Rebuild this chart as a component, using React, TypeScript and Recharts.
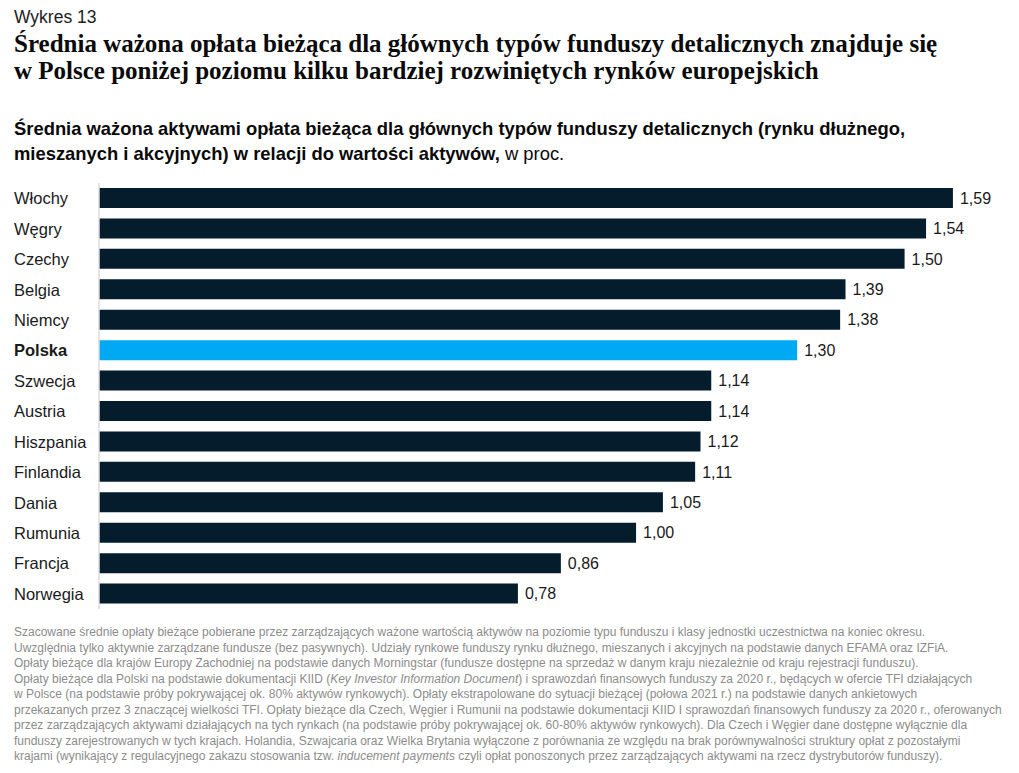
import React from 'react';
import { BarChart, Bar, XAxis, YAxis, Cell, LabelList } from 'recharts';

const countries = [
  'Włochy',
  'Węgry',
  'Czechy',
  'Belgia',
  'Niemcy',
  'Polska',
  'Szwecja',
  'Austria',
  'Hiszpania',
  'Finlandia',
  'Dania',
  'Rumunia',
  'Francja',
  'Norwegia',
];

const fees = [1.59, 1.54, 1.5, 1.39, 1.38, 1.3, 1.14, 1.14, 1.12, 1.11, 1.05, 1.0, 0.86, 0.78];

const highlighted = 'Polska';

const data = countries.map((country, i) => ({ country, fee: fees[i] }));

const NAVY = '#051c2c';
const CYAN = '#00a9f4';
const SANS = '"Liberation Sans", Arial, sans-serif';

const footnotes: React.ReactNode[] = [
  'Szacowane średnie opłaty bieżące pobierane przez zarządzających ważone wartością aktywów na poziomie typu funduszu i klasy jednostki uczestnictwa na koniec okresu.',
  'Uwzględnia tylko aktywnie zarządzane fundusze (bez pasywnych). Udziały rynkowe funduszy rynku dłużnego, mieszanych i akcyjnych na podstawie danych EFAMA oraz IZFiA.',
  'Opłaty bieżące dla krajów Europy Zachodniej na podstawie danych Morningstar (fundusze dostępne na sprzedaż w danym kraju niezależnie od kraju rejestracji funduszu).',
  <>
    Opłaty bieżące dla Polski na podstawie dokumentacji KIID (<i>Key Investor Information Document</i>) i
    sprawozdań finansowych funduszy za 2020 r., będących w ofercie TFI działających
  </>,
  'w Polsce (na podstawie próby pokrywającej ok. 80% aktywów rynkowych). Opłaty ekstrapolowane do sytuacji bieżącej (połowa 2021 r.) na podstawie danych ankietowych',
  'przekazanych przez 3 znaczącej wielkości TFI. Opłaty bieżące dla Czech, Węgier i Rumunii na podstawie dokumentacji KIID I sprawozdań finansowych funduszy za 2020 r., oferowanych',
  'przez zarządzających aktywami działających na tych rynkach (na podstawie próby pokrywającej ok. 60-80% aktywów rynkowych). Dla Czech i Węgier dane dostępne wyłącznie dla',
  'funduszy zarejestrowanych w tych krajach. Holandia, Szwajcaria oraz Wielka Brytania wyłączone z porównania ze względu na brak porównywalności struktury opłat z pozostałymi',
  <>
    krajami (wynikający z regulacyjnego zakazu stosowania tzw. <i>inducement payments</i> czyli opłat
    ponoszonych przez zarządzających aktywami na rzecz dystrybutorów funduszy).
  </>,
];

const CountryTick = (props: any) => {
  const { y, payload } = props;
  const bold = payload.value === highlighted;
  return (
    <text
      x={14}
      y={y}
      dy={6}
      textAnchor="start"
      fontSize={16.5}
      fontFamily={SANS}
      fontWeight={bold ? 700 : 400}
      fill="#1a1a1a"
    >
      {payload.value}
    </text>
  );
};

export default function App() {
  return (
    <div
      style={{
        position: 'absolute',
        left: 0,
        top: 0,
        width: 1019,
        height: 773,
        background: '#fff',
        overflow: 'hidden',
      }}
    >
      <div style={{ position: 'absolute', left: 14, top: 7, fontFamily: SANS, fontSize: 17.5, color: '#222' }}>
        Wykres 13
      </div>
      <div
        style={{
          position: 'absolute',
          left: 14,
          top: 30,
          fontFamily: '"Liberation Serif", "Times New Roman", serif',
          fontWeight: 700,
          fontSize: 25,
          lineHeight: '27px',
          color: '#0a0a0a',
          whiteSpace: 'nowrap',
        }}
      >
        <div>Średnia ważona opłata bieżąca dla głównych typów funduszy detalicznych znajduje się</div>
        <div>w Polsce poniżej poziomu kilku bardziej rozwiniętych rynków europejskich</div>
      </div>
      <div
        style={{
          position: 'absolute',
          left: 14,
          top: 116,
          fontFamily: SANS,
          fontSize: 18.4,
          lineHeight: '25px',
          color: '#0a0a0a',
          whiteSpace: 'nowrap',
        }}
      >
        <div style={{ fontWeight: 700 }}>
          Średnia ważona aktywami opłata bieżąca dla głównych typów funduszy detalicznych (rynku dłużnego,
        </div>
        <div>
          <b>mieszanych i akcyjnych) w relacji do wartości aktywów,</b> w proc.
        </div>
      </div>

      <div style={{ position: 'absolute', left: 0, top: 183 }}>
        <BarChart
          width={1019}
          height={426}
          data={data}
          layout="vertical"
          margin={{ top: 0, right: 7, bottom: 0, left: 0 }}
        >
          <XAxis type="number" domain={[0, 1.7]} hide />
          <YAxis
            type="category"
            dataKey="country"
            width={99}
            tick={<CountryTick />}
            tickLine={false}
            axisLine={{ stroke: '#dddddd', strokeWidth: 1.5 }}
            interval={0}
          />
          <Bar dataKey="fee" barSize={20} isAnimationActive={false}>
            {data.map((d) => (
              <Cell key={d.country} fill={d.country === highlighted ? CYAN : NAVY} />
            ))}
            <LabelList
              dataKey="fee"
              position="right"
              offset={7}
              formatter={(v: any) => Number(v).toFixed(2).replace('.', ',')}
              style={{ fontFamily: SANS, fontSize: 16, fill: '#1a1a1a' }}
            />
          </Bar>
        </BarChart>
      </div>

      <div
        style={{
          position: 'absolute',
          left: 14,
          top: 625,
          fontFamily: SANS,
          fontSize: 12,
          lineHeight: '15.5px',
          color: '#8c8c8c',
          whiteSpace: 'nowrap',
        }}
      >
        {footnotes.map((line, i) => (
          <div key={i}>{line}</div>
        ))}
      </div>
    </div>
  );
}
